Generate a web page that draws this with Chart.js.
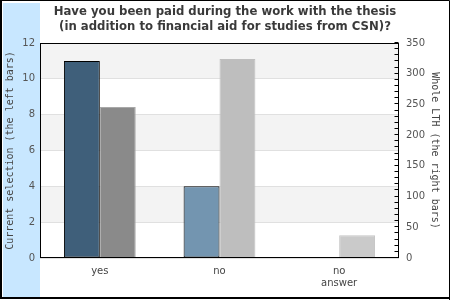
<!DOCTYPE html>
<html>
<head>
<meta charset="utf-8">
<script src="https://cdn.jsdelivr.net/npm/chart.js@4"></script>
<style>
  html, body { margin: 0; padding: 0; background: #fff; }
  #wrap { width: 450px; height: 300px; position: relative; }
</style>
</head>
<body>
<div id="wrap"><canvas id="c" width="450" height="300"></canvas></div>
<script>
const categories = ["yes", "no", ["no", "answer"]];
const currentSelection = [11, 4, 0];
const wholeLTH = [246, 324, 37];
const leftTicks = [0, 2, 4, 6, 8, 10, 12];
const rightTicks = [0, 50, 100, 150, 200, 250, 300, 350];
const titleLines = ["Have you been paid during the work with the thesis", "(in addition to financial aid for studies from CSN)?"];

const leftColors = ["#3f5f7a", "#7395b0", "#7395b0"];
const rightColors = ["#8a8a8a", "#bebebe", "#cacaca"];
const rightBorders = ["#a8a8a8", "#bebebe", "#c4c4c4"];

const decor = {
  id: 'decor',
  beforeDraw(chart) {
    const ctx = chart.ctx, a = chart.chartArea, y = chart.scales.y;
    ctx.save();
    ctx.fillStyle = '#ffffff';
    ctx.fillRect(0, 0, chart.width, chart.height);
    ctx.fillStyle = '#c8e7ff';
    ctx.fillRect(3, 3, 37, 294);
    ctx.fillStyle = '#f3f3f3';
    for (let i = 0; i < leftTicks.length - 1; i++) {
      if ((leftTicks.length - 2 - i) % 2 === 0) {
        const y0 = y.getPixelForValue(leftTicks[i]);
        const y1 = y.getPixelForValue(leftTicks[i + 1]);
        ctx.fillRect(a.left, y1, a.right - a.left, y0 - y1);
      }
    }
    ctx.restore();
  },
  afterDraw(chart) {
    const ctx = chart.ctx, a = chart.chartArea, y1 = chart.scales.y1;
    ctx.save();
    ctx.strokeStyle = '#000';
    ctx.lineWidth = 1;
    ctx.strokeRect(Math.round(a.left) + 0.5, Math.round(a.top) + 0.5, Math.round(a.right - a.left) - 1, Math.round(a.bottom - a.top) - 1);
    ctx.beginPath();
    const xr = Math.round(a.right) - 0.5;
    for (let v = 0; v <= 350; v += 10) {
      const py = Math.round(y1.getPixelForValue(v)) - 0.5;
      ctx.moveTo(xr - 4, py);
      ctx.lineTo(xr, py);
    }
    ctx.stroke();
    ctx.lineWidth = 2;
    ctx.beginPath();
    ctx.moveTo(1, 0); ctx.lineTo(1, 298); ctx.lineTo(450, 298);
    ctx.stroke();
    ctx.lineWidth = 1;
    ctx.beginPath();
    ctx.moveTo(0, 0.5); ctx.lineTo(449.5, 0.5); ctx.lineTo(449.5, 300);
    ctx.stroke();
    ctx.restore();
  }
};

new Chart(document.getElementById('c'), {
  type: 'bar',
  data: {
    labels: categories,
    datasets: [
      {
        label: 'Current selection',
        data: currentSelection,
        yAxisID: 'y',
        backgroundColor: leftColors,
        borderColor: '#000',
        borderWidth: c => (c.raw === 0 ? 0 : 1),
        borderSkipped: false,
        categoryPercentage: 0.6,
        barPercentage: 1.0
      },
      {
        label: 'Whole LTH',
        data: wholeLTH,
        yAxisID: 'y1',
        backgroundColor: rightColors,
        borderColor: rightBorders,
        borderWidth: 1,
        borderSkipped: 'bottom',
        categoryPercentage: 0.6,
        barPercentage: 1.0
      }
    ]
  },
  options: {
    responsive: false,
    animation: false,
    devicePixelRatio: 1,
    layout: { padding: 0 },
    plugins: {
      legend: { display: false },
      tooltip: { enabled: false },
      title: {
        display: true,
        text: titleLines,
        color: '#3a3a3a',
        font: { family: 'DejaVu Sans', size: 11.7, weight: 'bold', lineHeight: 1.24 },
        padding: { top: 5, bottom: 9 }
      }
    },
    scales: {
      x: {
        grid: { display: false, drawTicks: false },
        border: { display: false },
        ticks: { color: '#444', font: { family: 'DejaVu Sans', size: 10 }, padding: 7, maxRotation: 0, autoSkip: false },
        afterFit(s) { s.height = 42; }
      },
      y: {
        position: 'left',
        min: 0, max: 12,
        afterBuildTicks(s) { s.ticks = leftTicks.map(v => ({ value: v })); },
        grid: { color: '#e0e0e0', drawTicks: false },
        border: { display: false },
        ticks: { color: '#555', font: { family: 'DejaVu Sans', size: 10 }, padding: 5 },
        title: {
          display: true,
          text: 'Current selection (the left bars)',
          color: '#444',
          font: { family: 'DejaVu Sans Mono', size: 10 },
          padding: { top: 4, bottom: 0 }
        },
        afterFit(s) { s.width = 40; }
      },
      y1: {
        position: 'right',
        min: 0, max: 350,
        afterBuildTicks(s) { s.ticks = rightTicks.map(v => ({ value: v })); },
        grid: { display: false, drawTicks: false },
        border: { display: false },
        ticks: { color: '#555', font: { family: 'DejaVu Sans', size: 10 }, padding: 7 },
        title: {
          display: true,
          text: 'Whole LTH (the right bars)',
          color: '#444',
          font: { family: 'DejaVu Sans Mono', size: 10 },
          padding: { top: 9, bottom: 0 }
        },
        afterFit(s) { s.width = 51; }
      }
    }
  },
  plugins: [decor]
});
</script>
</body>
</html>
